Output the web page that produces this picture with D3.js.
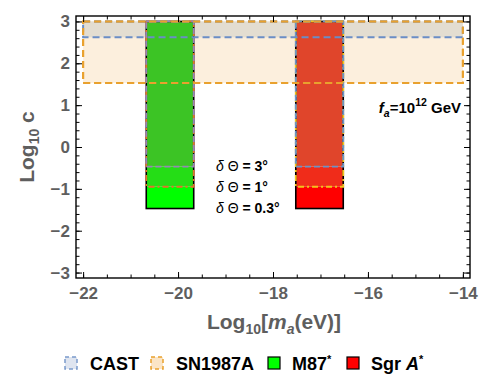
<!DOCTYPE html>
<html><head><meta charset="utf-8">
<script src="https://cdn.jsdelivr.net/npm/d3@7"></script>
<style>body{margin:0;background:#fff} svg{display:block} text{font-family:"Liberation Sans",Arial,sans-serif}</style>
</head><body><svg id="c" width="500" height="381"></svg>
<script>
// ---- data ----
const xTicks = [-22, -20, -18, -16, -14];
const yTicks = [-3, -2, -1, 0, 1, 2, 3];
const sources = ["M87*", "Sgr A*"];
const massLo = [-20.67, -17.52];
const massHi = [-19.67, -16.52];
const cTop = 3;
const lim3 = [-0.47, -0.47];   // δΘ = 3°
const lim1 = [-0.95, -0.95];   // δΘ = 1°
const lim03 = [-1.47, -1.47];  // δΘ = 0.3°
const bandNames = ["SN1987A", "CAST"];
const bandLo = [1.53, 2.62];
const bandHi = [3, 3];
const bandMassLo = [-22, -22];
const bandMassHi = [-14, -14];
const deltaLabels = ["3°", "1°", "0.3°"];

// ---- styles ----
const barFill = [["#3cc425", "#25dd16", "#00ff00"], ["#e0452b", "#f02c1a", "#ff0000"]];
const line1Col = ["#e0742c", "#f4c21c"];
const line3Col = ["#9586b6", "#6b93c6"];
const bandFill = ["#fcefdd", "#e3ddd1"];
const bandStroke = ["#e9a12e", "#6a8dc6"];

const svg = d3.select("#c");
const L = 76, R = 470, T = 16, B = 278;
const x = d3.scaleLinear().domain([-22.15, -13.85]).range([L, R]);
const y = d3.scaleLinear().domain([-3.13, 3.13]).range([B, T]);
const gray = "#5e5e5e";

// band fills
svg.selectAll("rect.bandfill").data(bandNames).join("rect")
  .attr("x", (d, i) => x(bandMassLo[i])).attr("width", (d, i) => x(bandMassHi[i]) - x(bandMassLo[i]))
  .attr("y", (d, i) => y(bandHi[i])).attr("height", (d, i) => y(bandLo[i]) - y(bandHi[i]))
  .attr("fill", (d, i) => bandFill[i]);

// bars
sources.forEach((s, i) => {
  const x0 = x(massLo[i]), w = x(massHi[i]) - x(massLo[i]);
  const g = svg.append("g");
  g.append("rect").attr("x", x0).attr("width", w).attr("y", y(lim1[i])).attr("height", y(lim03[i]) - y(lim1[i])).attr("fill", barFill[i][2]);
  g.append("rect").attr("x", x0).attr("width", w).attr("y", y(lim3[i])).attr("height", y(lim1[i]) - y(lim3[i])).attr("fill", barFill[i][1]);
  g.append("rect").attr("x", x0).attr("width", w).attr("y", y(cTop)).attr("height", y(lim3[i]) - y(cTop)).attr("fill", barFill[i][0]);
  g.append("rect").attr("x", x0).attr("width", w).attr("y", y(cTop)).attr("height", y(lim03[i]) - y(cTop))
    .attr("fill", "none").attr("stroke", "#000").attr("stroke-width", 1.6);
  g.append("rect").attr("x", x0).attr("width", w).attr("y", y(cTop)).attr("height", y(lim1[i]) - y(cTop))
    .attr("fill", "none").attr("stroke", line1Col[i]).attr("stroke-width", 1.8).attr("stroke-dasharray", "6,3,2,3");
  g.append("rect").attr("x", x0).attr("width", w).attr("y", y(cTop)).attr("height", y(lim3[i]) - y(cTop))
    .attr("fill", "none").attr("stroke", line3Col[i]).attr("stroke-width", 1.8).attr("stroke-dasharray", "6,3");
});

// band outlines
svg.selectAll("rect.bandline").data(bandNames).join("rect")
  .attr("x", (d, i) => x(bandMassLo[i])).attr("width", (d, i) => x(bandMassHi[i]) - x(bandMassLo[i]))
  .attr("y", (d, i) => y(bandHi[i])).attr("height", (d, i) => y(bandLo[i]) - y(bandHi[i]))
  .attr("fill", "none").attr("stroke", (d, i) => bandStroke[i]).attr("stroke-width", 2).attr("stroke-dasharray", "7,4");
svg.append("rect").attr("x", x(bandMassLo[0])).attr("width", x(bandMassHi[0]) - x(bandMassLo[0]))
  .attr("y", y(bandHi[0])).attr("height", y(bandLo[0]) - y(bandHi[0]))
  .attr("fill", "none").attr("stroke", bandStroke[0]).attr("stroke-width", 2).attr("stroke-dasharray", "7,4");

// axes
const xMinor = d3.range(-22, -13.9, 0.5);
const yMinor = d3.range(-3, 3.01, 0.2).map(v => Math.round(v * 10) / 10);
function styleAxis(g) { g.select(".domain").remove(); g.selectAll("line").attr("stroke", "#000").attr("stroke-width", 1); }
svg.append("g").attr("transform", `translate(0,${B})`).call(d3.axisBottom(x).tickValues(xMinor).tickSize(-3.5).tickFormat("")).call(styleAxis);
svg.append("g").attr("transform", `translate(0,${T})`).call(d3.axisTop(x).tickValues(xMinor).tickSize(-3.5).tickFormat("")).call(styleAxis);
svg.append("g").attr("transform", `translate(${L},0)`).call(d3.axisLeft(y).tickValues(yMinor).tickSize(-3.5).tickFormat("")).call(styleAxis);
svg.append("g").attr("transform", `translate(${R},0)`).call(d3.axisRight(y).tickValues(yMinor).tickSize(-3.5).tickFormat("")).call(styleAxis);
const fmt = d => d < 0 ? "\u2212" + Math.abs(d) : String(d);
const xa = svg.append("g").attr("transform", `translate(0,${B})`).call(d3.axisBottom(x).tickValues(xTicks).tickSize(-6).tickPadding(9).tickFormat(fmt)).call(styleAxis);
svg.append("g").attr("transform", `translate(0,${T})`).call(d3.axisTop(x).tickValues(xTicks).tickSize(-6).tickFormat("")).call(styleAxis);
const ya = svg.append("g").attr("transform", `translate(${L},0)`).call(d3.axisLeft(y).tickValues(yTicks).tickSize(-6).tickPadding(6).tickFormat(fmt)).call(styleAxis);
svg.append("g").attr("transform", `translate(${R},0)`).call(d3.axisRight(y).tickValues(yTicks).tickSize(-6).tickFormat("")).call(styleAxis);
[xa, ya].forEach(a => a.selectAll("text").attr("fill", gray).attr("font-size", 17).attr("font-weight", "bold").attr("font-family", "Liberation Sans, Arial, sans-serif"));

// frame
svg.append("rect").attr("x", L).attr("y", T).attr("width", R - L).attr("height", B - T)
  .attr("fill", "none").attr("stroke", "#000").attr("stroke-width", 1.4);

// axis titles
const xt = svg.append("text").attr("x", (L + R) / 2 + 1).attr("y", 329).attr("text-anchor", "middle")
  .attr("fill", gray).attr("font-size", 21).attr("font-weight", "bold");
xt.append("tspan").text("Log");
xt.append("tspan").attr("font-size", 14).attr("dy", 5).text("10");
xt.append("tspan").attr("dy", -5).text("[");
xt.append("tspan").attr("font-style", "italic").text("m");
xt.append("tspan").attr("font-style", "italic").attr("font-size", 14).attr("dy", 5).text("a");
xt.append("tspan").attr("dy", -5).text("(eV)]");

const yt = svg.append("text").attr("transform", `translate(34,${(T + B) / 2}) rotate(-90)`).attr("text-anchor", "middle")
  .attr("fill", gray).attr("font-size", 21).attr("font-weight", "bold");
yt.append("tspan").text("Log");
yt.append("tspan").attr("font-size", 14).attr("dy", 5).text("10");
yt.append("tspan").attr("dy", -5).text("\u00a0c");

// fa annotation
const fa = svg.append("text").attr("x", 461).attr("y", 113).attr("text-anchor", "end")
  .attr("fill", "#000").attr("font-size", 15).attr("font-weight", "bold");
fa.append("tspan").attr("font-style", "italic").text("f");
fa.append("tspan").attr("font-style", "italic").attr("font-size", 10.5).attr("dy", 4).text("a");
fa.append("tspan").attr("dy", -4).text("=10");
fa.append("tspan").attr("font-size", 10.5).attr("dy", -7).text("12");
fa.append("tspan").attr("dy", 7).text("\u00a0GeV");

// delta labels
deltaLabels.forEach((lab, k) => {
  const t = svg.append("text").attr("x", 216).attr("y", 171 + k * 21).attr("font-size", 14).attr("fill", "#000");
  t.append("tspan").attr("font-style", "italic").text("δ");
  t.append("tspan").text(" Θ ");
  t.append("tspan").attr("font-weight", "bold").text("= " + lab);
});

// legend
const legX = [65, 151, 268, 347];
const legTX = [90, 176, 292, 371];
const legNames = ["CAST", "SN1987A", "M87", "Sgr "];
const lg = svg.append("g");
lg.append("rect").attr("x", legX[0]).attr("y", 357).attr("width", 12).attr("height", 12).attr("fill", "#dfe5f0")
  .attr("stroke", "#7b9bcc").attr("stroke-width", 1.5).attr("stroke-dasharray", "4,3");
lg.append("rect").attr("x", legX[1]).attr("y", 357).attr("width", 12).attr("height", 12).attr("fill", "#fbe5c6")
  .attr("stroke", "#e9a12e").attr("stroke-width", 1.5).attr("stroke-dasharray", "4,3");
lg.append("rect").attr("x", legX[2]).attr("y", 357).attr("width", 12).attr("height", 12).attr("fill", barFill[0][2])
  .attr("stroke", "#000").attr("stroke-width", 1.2);
lg.append("rect").attr("x", legX[3]).attr("y", 357).attr("width", 12).attr("height", 12).attr("fill", barFill[1][2])
  .attr("stroke", "#000").attr("stroke-width", 1.2);
legNames.forEach((n, i) => {
  const t = lg.append("text").attr("x", legTX[i]).attr("y", 370).attr("font-size", 18).attr("font-weight", "bold").attr("fill", "#000");
  t.append("tspan").text(n);
  if (i === 2) t.append("tspan").attr("font-size", 11).attr("dy", -7).text("*");
  if (i === 3) { t.append("tspan").attr("font-style", "italic").text("A"); t.append("tspan").attr("font-size", 11).attr("dy", -7).text("*"); }
});
</script></body></html>
